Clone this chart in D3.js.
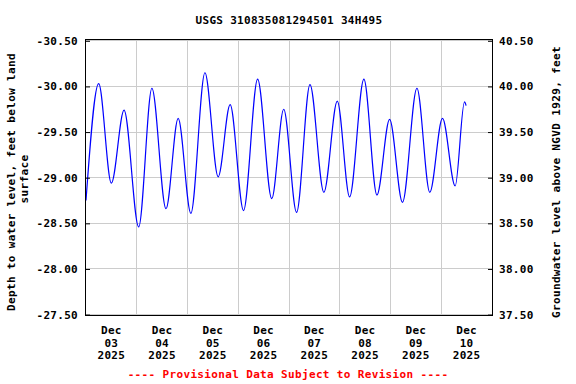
<!DOCTYPE html>
<html>
<head>
<meta charset="utf-8">
<script src="https://cdn.jsdelivr.net/npm/d3@7"></script>
<style>
  body { margin: 0; background: #fff; }
  text { font-family: "DejaVu Sans Mono", monospace; font-weight: bold; font-size: 11px; }
</style>
</head>
<body>
<div id="chart"></div>
<script>
const siteTitle = "USGS 310835081294501 34H495";

// readings: turning points of the water level
const obsTimes = [
  "2025-12-03 00:00", "2025-12-03 06:00", "2025-12-03 12:00", "2025-12-03 18:00",
  "2025-12-04 00:55", "2025-12-04 07:10", "2025-12-04 13:50", "2025-12-04 19:35",
  "2025-12-05 01:35", "2025-12-05 08:15", "2025-12-05 14:30", "2025-12-05 20:10",
  "2025-12-06 02:30", "2025-12-06 09:10", "2025-12-06 15:50", "2025-12-06 21:30",
  "2025-12-07 03:35", "2025-12-07 09:55", "2025-12-07 16:30", "2025-12-07 22:50",
  "2025-12-08 04:40", "2025-12-08 11:25", "2025-12-08 17:35", "2025-12-08 23:35",
  "2025-12-09 05:40", "2025-12-09 12:30", "2025-12-09 18:35", "2025-12-10 00:35",
  "2025-12-10 06:35", "2025-12-10 11:00", "2025-12-10 11:45"
];
const depthValues = [
  -28.75, -30.03, -28.94, -29.74,
  -28.46, -29.98, -28.66, -29.65,
  -28.61, -30.15, -29.01, -29.80,
  -28.64, -30.08, -28.77, -29.75,
  -28.62, -30.02, -28.84, -29.84,
  -28.79, -30.08, -28.81, -29.64,
  -28.73, -29.98, -28.84, -29.65,
  -28.91, -29.83, -29.79
];

const depthTicks = [-30.5, -30.0, -29.5, -29.0, -28.5, -28.0, -27.5];
const elevTicks = [40.5, 40.0, 39.5, 39.0, 38.5, 38.0, 37.5];
const dayTicks = ["2025-12-03", "2025-12-04", "2025-12-05", "2025-12-06",
                  "2025-12-07", "2025-12-08", "2025-12-09", "2025-12-10"];
const xStart = "2025-12-03", xEnd = "2025-12-11";

const leftTitle = ["Depth to water level, feet below land", "surface"];
const rightTitle = "Groundwater level above NGVD 1929, feet";
const footNote = "---- Provisional Data Subject to Revision ----";

const width = 576, height = 384;
const plot = { x0: 86, x1: 492, y0: 40.8, y1: 314.6 };

const parseTime = d3.timeParse("%Y-%m-%d %H:%M");
const parseDay = d3.timeParse("%Y-%m-%d");
const data = obsTimes.map((t, i) => ({ date: parseTime(t), value: depthValues[i] }));

const svg = d3.select("#chart").append("svg")
  .attr("width", width)
  .attr("height", height);

const x = d3.scaleTime()
  .domain([parseDay(xStart), parseDay(xEnd)])
  .range([plot.x0, plot.x1]);

const y = d3.scaleLinear()
  .domain([-30.5, -27.5])
  .range([plot.y0, plot.y1]);

const y2 = d3.scaleLinear()
  .domain([40.5, 37.5])
  .range([plot.y0, plot.y1]);

// grid lines
const grid = svg.append("g").attr("shape-rendering", "crispEdges");
grid.selectAll(".hgrid")
  .data(depthTicks)
  .join("line")
  .attr("class", "hgrid")
  .attr("x1", plot.x0).attr("x2", plot.x1)
  .attr("y1", d => y(d)).attr("y2", d => y(d))
  .attr("stroke", "#cccccc");

const midnights = dayTicks.slice(1).map(parseDay);
grid.selectAll(".vgrid")
  .data(midnights)
  .join("line")
  .attr("class", "vgrid")
  .attr("x1", d => x(d)).attr("x2", d => x(d))
  .attr("y1", plot.y0 - 1).attr("y2", plot.y1 + 1)
  .attr("stroke", "#cccccc");

// data line
const line = d3.line()
  .x(d => x(d.date))
  .y(d => y(d.value))
  .curve(d3.curveMonotoneX);

svg.append("path")
  .datum(data)
  .attr("fill", "none")
  .attr("stroke", "#0000ff")
  .attr("stroke-width", 1.2)
  .attr("d", line);

// frame
svg.append("rect")
  .attr("x", 85.5).attr("y", 39.5)
  .attr("width", 407).attr("height", 276)
  .attr("fill", "none")
  .attr("stroke", "#000")
  .attr("stroke-width", 1);

// y axes, ticks point inward
const fmt = d => d.toFixed(2);
const leftAxis = svg.append("g")
  .attr("transform", `translate(${plot.x0},0)`)
  .call(d3.axisLeft(y).tickValues(depthTicks).tickFormat(fmt).tickSize(-4).tickPadding(8));
const rightAxis = svg.append("g")
  .attr("transform", `translate(${plot.x1},0)`)
  .call(d3.axisRight(y2).tickValues(elevTicks).tickFormat(fmt).tickSize(-4).tickPadding(7));
[leftAxis, rightAxis].forEach(g => {
  g.select(".domain").remove();
  g.attr("font-family", null).attr("font-size", null);
  g.selectAll("text").attr("fill", "#000").attr("letter-spacing", "0.3px");
  g.selectAll("line").attr("stroke", "#000");
});

// x labels at noon of each day
const fmtMon = d3.timeFormat("%b"), fmtDay = d3.timeFormat("%d"), fmtYear = d3.timeFormat("%Y");
const xLab = svg.append("g").selectAll("text")
  .data(dayTicks.map(parseDay))
  .join("text")
  .attr("text-anchor", "middle")
  .attr("letter-spacing", "0.3px");
xLab.each(function(d) {
  const cx = x(d3.timeHour.offset(d, 12));
  const t = d3.select(this);
  t.append("tspan").attr("x", cx).attr("y", 334).text(fmtMon(d));
  t.append("tspan").attr("x", cx).attr("y", 346.7).text(fmtDay(d));
  t.append("tspan").attr("x", cx).attr("y", 359.4).text(fmtYear(d));
});

// titles
svg.append("text")
  .attr("x", 289).attr("y", 24)
  .attr("text-anchor", "middle")
  .attr("letter-spacing", "0.3px")
  .text(siteTitle);

svg.append("text")
  .attr("transform", "translate(15,182) rotate(-90)")
  .attr("text-anchor", "middle")
  .attr("letter-spacing", "0.35px")
  .text(leftTitle[0]);
svg.append("text")
  .attr("transform", "translate(28,179) rotate(-90)")
  .attr("text-anchor", "middle")
  .attr("letter-spacing", "0.35px")
  .text(leftTitle[1]);

svg.append("text")
  .attr("transform", "translate(560,182) rotate(-90)")
  .attr("text-anchor", "middle")
  .attr("letter-spacing", "0.35px")
  .text(rightTitle);

svg.append("text")
  .attr("x", 288).attr("y", 378)
  .attr("text-anchor", "middle")
  .attr("fill", "#ff0000")
  .attr("letter-spacing", "0.35px")
  .text(footNote);
</script>
</body>
</html>
